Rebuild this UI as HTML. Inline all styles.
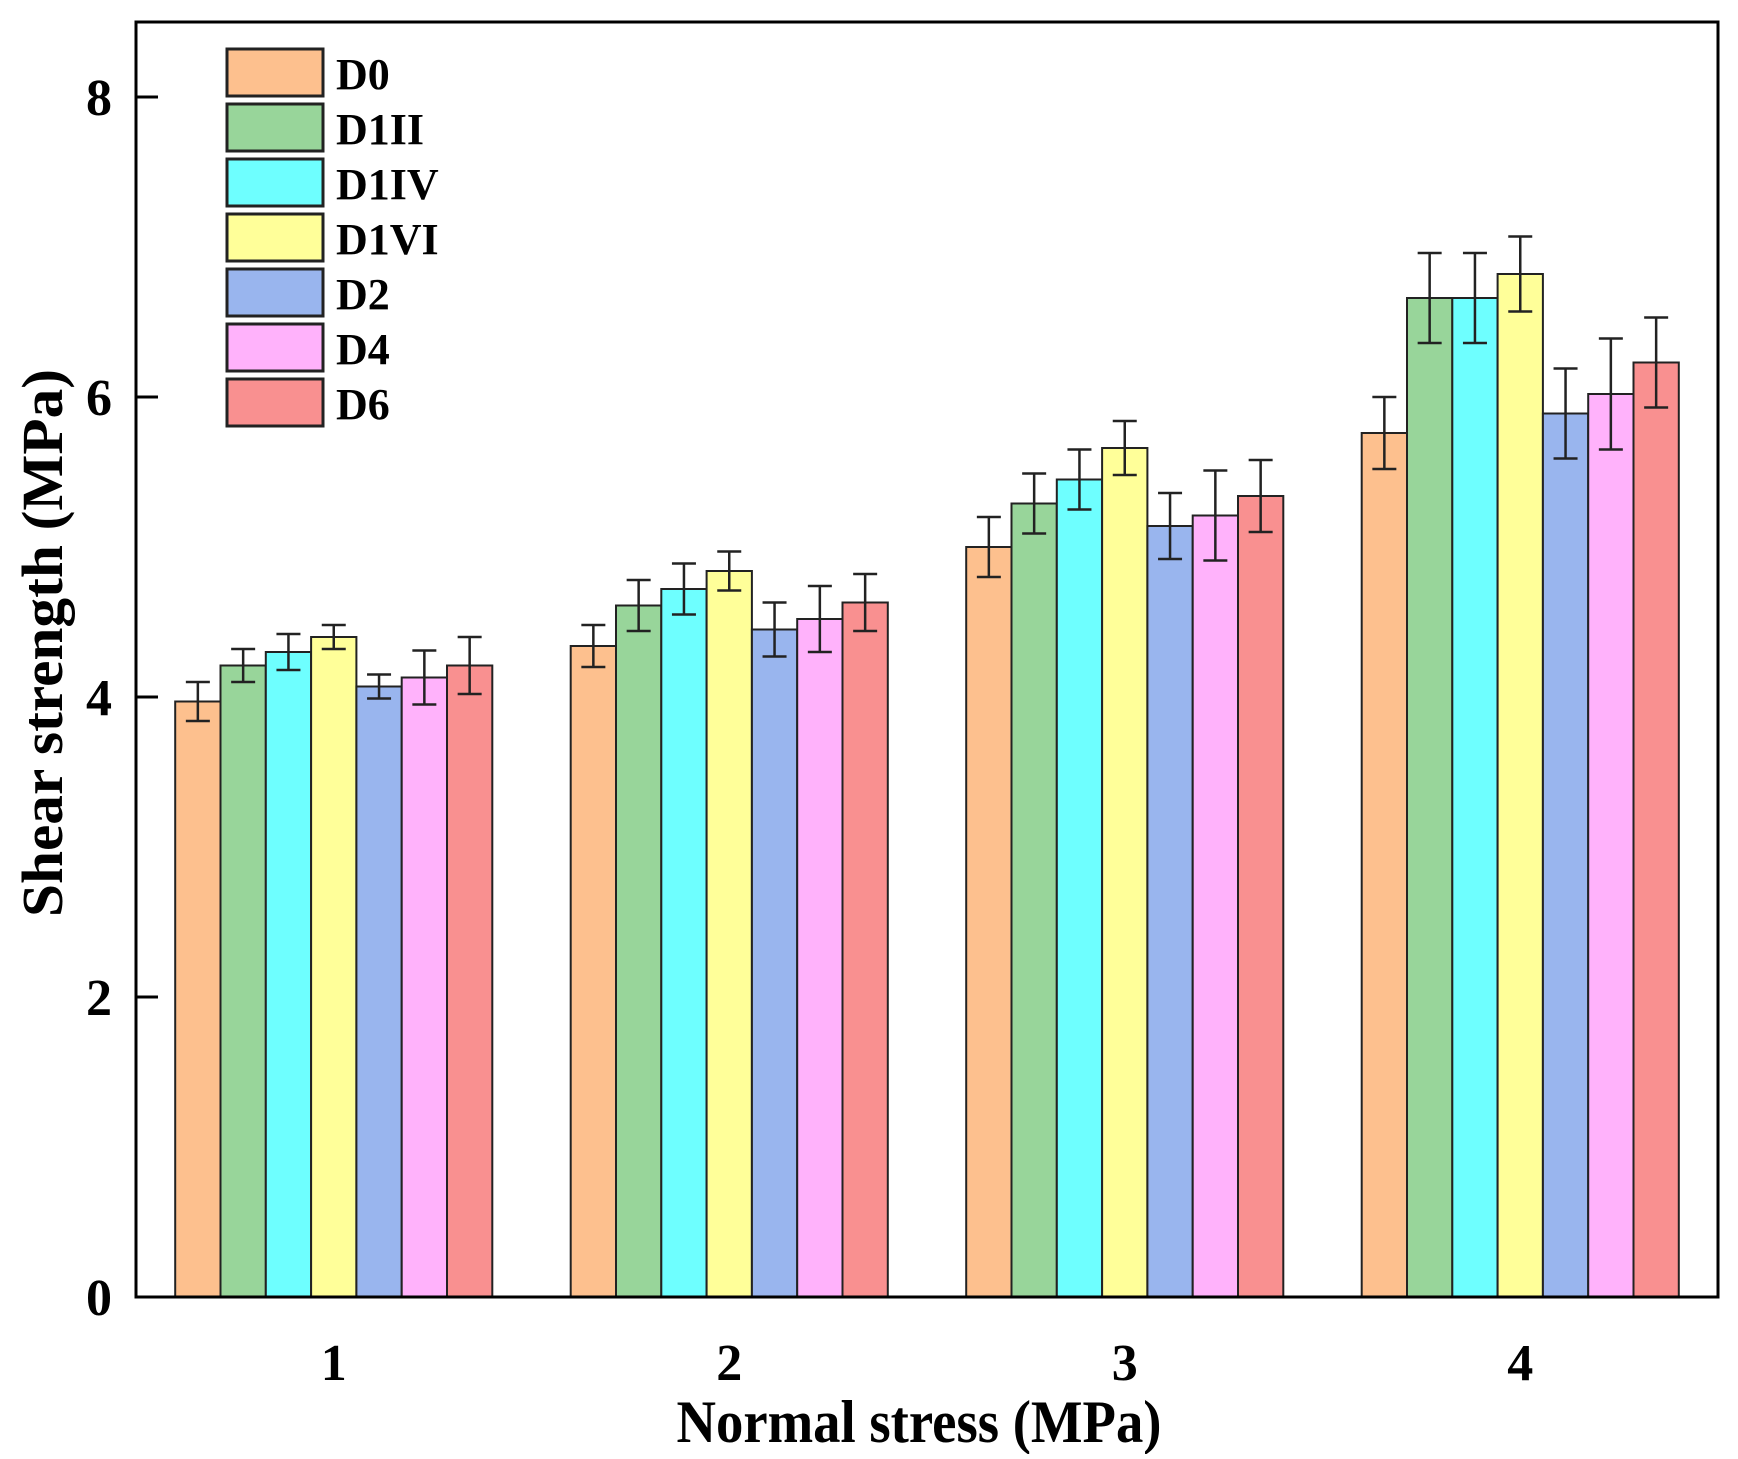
<!DOCTYPE html>
<html><head><meta charset="utf-8"><style>
html,body{margin:0;padding:0;background:#fff;}
svg text{font-family:"Liberation Serif",serif;font-weight:bold;fill:#000;}
</style></head><body>
<svg id="chart" width="1738" height="1454" xmlns="http://www.w3.org/2000/svg">
<g id="bars"></g>
<g id="axes"></g>
<g id="legend"></g>
</svg>
<script>
const categories = ["1","2","3","4"];
const seriesNames = ["D0","D1II","D1IV","D1VI","D2","D4","D6"];
const seriesColors = ["#fdc08e","#98d59a","#6effff","#ffff99","#99b5ee","#ffb2fb","#f99090"];
const D0   = [3.97,4.34,5.00,5.76];
const D1II = [4.21,4.61,5.29,6.66];
const D1IV = [4.30,4.72,5.45,6.66];
const D1VI = [4.40,4.84,5.66,6.82];
const D2   = [4.07,4.45,5.14,5.89];
const D4   = [4.13,4.52,5.21,6.02];
const D6   = [4.21,4.63,5.34,6.23];
const D0err   = [0.13,0.14,0.20,0.24];
const D1IIerr = [0.11,0.17,0.20,0.30];
const D1IVerr = [0.12,0.17,0.20,0.30];
const D1VIerr = [0.08,0.13,0.18,0.25];
const D2err   = [0.08,0.18,0.22,0.30];
const D4err   = [0.18,0.22,0.30,0.37];
const D6err   = [0.19,0.19,0.24,0.30];
const yTicks = [0,2,4,6,8];
const values = [D0,D1II,D1IV,D1VI,D2,D4,D6];
const errs = [D0err,D1IIerr,D1IVerr,D1VIerr,D2err,D4err,D6err];

const NS="http://www.w3.org/2000/svg";
const L=136,R=1718,T=22,B=1297;
const x=i=>L+(i+0.5)*(R-L)/categories.length;
const y=v=>B-v*150;
const bw=45.3;
function mk(tag,parent,attrs){const e=document.createElementNS(NS,tag);for(const k in attrs)e.setAttribute(k,attrs[k]);parent.appendChild(e);return e;}
const gb=document.getElementById('bars'),ga=document.getElementById('axes'),gl=document.getElementById('legend');
values.forEach((ser,s)=>{
  ser.forEach((v,i)=>{
    const cx=x(i)+(s-3)*bw;
    const r=mk('rect',gb,{x:cx-bw/2,y:y(v),width:bw,height:B-y(v),fill:seriesColors[s],stroke:'#222','stroke-width':2});
    
    
    const e=errs[s][i];
    const eb=mk('path',gb,{d:`M${cx},${y(v+e)}V${y(v-e)}M${cx-12},${y(v+e)}H${cx+12}M${cx-12},${y(v-e)}H${cx+12}`,stroke:'#222','stroke-width':2.5,fill:'none'});
    
    
  });
});
const fr=mk('rect',ga,{x:L,y:T,width:R-L,height:B-T,fill:'none',stroke:'#000','stroke-width':3});


yTicks.forEach(t=>{
  const tk=mk('line',ga,{x1:L,x2:L+22,y1:y(t),y2:y(t),stroke:'#000','stroke-width':3});
  
  
  const tl=mk('text',ga,{x:112,y:y(t)+18,'text-anchor':'end','font-size':52});
  tl.textContent=t;
  
  
});
categories.forEach((c,i)=>{
  const tl=mk('text',ga,{x:x(i),y:1380,'text-anchor':'middle','font-size':52});
  tl.textContent=c;
  
  
});
const xt=mk('text',ga,{x:(L+R)/2-8,y:1442,'text-anchor':'middle','font-size':60,textLength:485,lengthAdjust:'spacingAndGlyphs'});
xt.textContent='Normal stress (MPa)';


const yt=mk('text',ga,{x:0,y:0,'text-anchor':'middle','font-size':58,textLength:548,lengthAdjust:'spacingAndGlyphs',transform:'translate(62,643) rotate(-90)'});
yt.textContent='Shear strength (MPa)';


seriesNames.forEach((n,s)=>{
  const yy=49+s*55;
  const sw=mk('rect',gl,{x:227,y:yy,width:96,height:47,fill:seriesColors[s],stroke:'#222','stroke-width':3});
  
  
  const lt=mk('text',gl,{x:336,y:yy+40,'font-size':44});
  lt.textContent=n;
  
  
});
</script>
</body></html>
